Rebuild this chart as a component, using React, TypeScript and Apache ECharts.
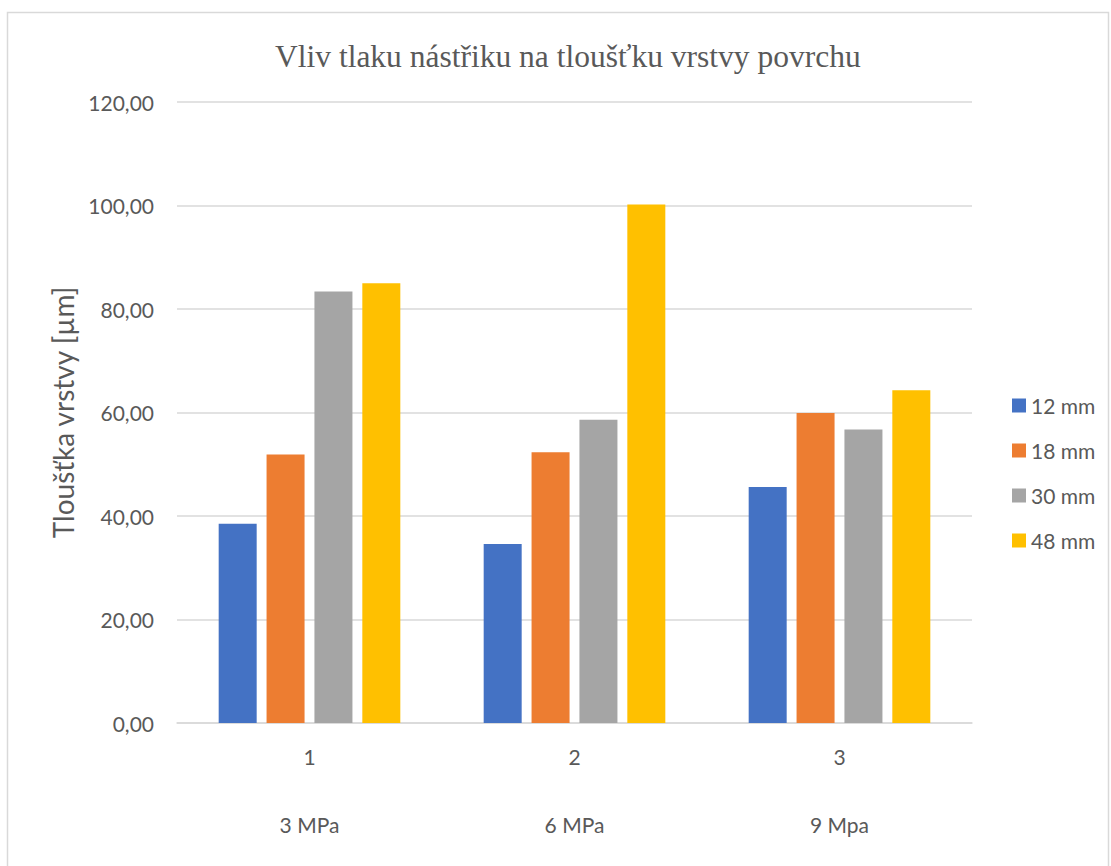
import React, { useEffect, useRef } from "react";
import * as echarts from "echarts";

const categories = ["1", "2", "3"];
const pressureLabels = ["3 MPa", "6 MPa", "9 Mpa"];
const seriesNames = ["12 mm", "18 mm", "30 mm", "48 mm"];
const values12 = [38.5, 34.6, 45.6];
const values18 = [51.9, 52.3, 59.9];
const values30 = [83.4, 58.6, 56.7];
const values48 = [85.0, 100.2, 64.3];
const colors = ["#4472C4", "#ED7D31", "#A5A5A5", "#FFC000"];
const yTicks = { min: 0, max: 120, interval: 20 };

const FONT = "Lato, 'Noto Sans', sans-serif";
const TEXT = "#595959";

export default function App() {
  const ref = useRef<HTMLDivElement>(null);
  useEffect(() => {
    document.body.style.margin = "0";
    if (!ref.current) return;
    const chart = echarts.init(ref.current, null, { renderer: "svg" });
    const all = [values12, values18, values30, values48];
    chart.setOption({
      animation: false,
      backgroundColor: "#ffffff",
      title: {
        text: "Vliv tlaku nástřiku na tloušťku vrstvy povrchu",
        left: 270,
        top: 35,
        textStyle: {
          fontFamily: "'Liberation Serif', 'Times New Roman', serif",
          fontWeight: "normal",
          fontSize: 31.5,
          color: TEXT,
        },
      },
      graphic: [
        {
          type: "rect",
          shape: { x: 7.5, y: 12.5, width: 1101, height: 900 },
          style: { fill: "none", stroke: "#d9d9d9", lineWidth: 1.5 },
          silent: true,
        },
      ],
      legend: {
        orient: "vertical",
        left: 1007,
        top: 390,
        itemWidth: 14,
        itemHeight: 14,
        itemGap: 24,
        icon: "rect",
        textStyle: { fontFamily: FONT, fontSize: 21, color: TEXT },
        data: seriesNames,
      },
      grid: { left: 177, right: 139, top: 102, bottom: 143, containLabel: false },
      xAxis: [
        {
          type: "category",
          data: categories,
          axisLine: { lineStyle: { color: "#d9d9d9", width: 1.5 } },
          axisTick: { show: false },
          axisLabel: { fontFamily: FONT, fontSize: 21, color: TEXT, margin: 23 },
        },
        {
          type: "category",
          data: pressureLabels,
          position: "bottom",
          offset: 68,
          axisLine: { show: false },
          axisTick: { show: false },
          axisLabel: { fontFamily: FONT, fontSize: 21, color: TEXT, margin: 23 },
        },
      ],
      yAxis: {
        type: "value",
        min: yTicks.min,
        max: yTicks.max,
        interval: yTicks.interval,
        name: "Tloušťka vrstvy [µm]",
        nameLocation: "middle",
        nameGap: 98,
        nameTextStyle: { fontFamily: FONT, fontSize: 28, color: TEXT },
        axisLine: { show: false },
        axisTick: { show: false },
        axisLabel: {
          fontFamily: FONT,
          fontSize: 21,
          color: TEXT,
          margin: 23,
          formatter: (v: number) => v.toFixed(2).replace(".", ","),
        },
        splitLine: { lineStyle: { color: "#d9d9d9", width: 1.5 } },
      },
      series: seriesNames.map((name, i) => ({
        name,
        type: "bar",
        xAxisIndex: 0,
        data: all[i],
        barWidth: 38,
        barGap: "26%",
        itemStyle: { color: colors[i] },
      })),
    });
    return () => chart.dispose();
  }, []);
  return <div ref={ref} style={{ width: 1111, height: 866 }} />;
}
